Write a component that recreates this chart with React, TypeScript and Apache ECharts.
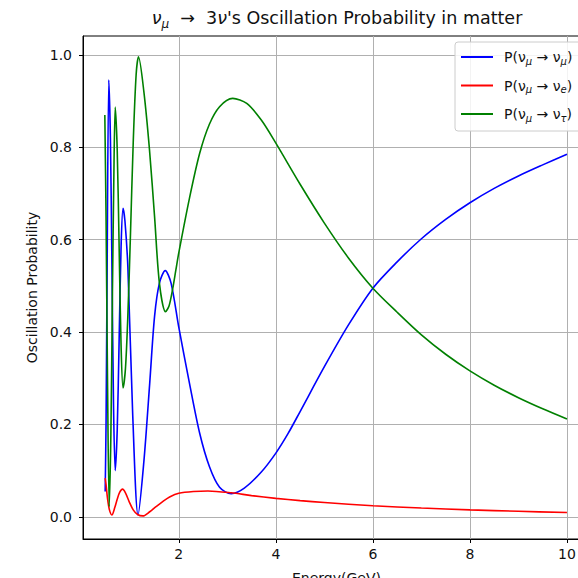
import React, { useEffect, useRef } from 'react';
import * as echarts from 'echarts';

// P(nu_mu -> nu_mu)  (blue)
const energyMuMu = [0.482, 0.50, 0.52, 0.557, 0.59, 0.62, 0.655, 0.689, 0.73, 0.77, 0.81, 0.85, 0.89, 0.95, 1.05, 1.16, 1.28, 1.40, 1.50, 1.60, 1.72, 1.84, 2.0, 2.22, 2.43, 2.63, 2.84, 3.08, 3.35, 3.7, 4.0, 4.25, 4.5, 5.0, 5.5, 6.0, 6.5, 7.0, 7.5, 8.0, 8.5, 9.0, 9.5, 10.0];
const probMuMu = [0.055, 0.2, 0.5, 0.946, 0.82, 0.557, 0.235, 0.10, 0.187, 0.384, 0.585, 0.668, 0.64, 0.54, 0.22, 0.004, 0.12, 0.289, 0.434, 0.506, 0.533, 0.506, 0.41, 0.289, 0.181, 0.109, 0.064, 0.050, 0.062, 0.097, 0.138, 0.18, 0.228, 0.325, 0.416, 0.495, 0.552, 0.602, 0.644, 0.680, 0.711, 0.738, 0.762, 0.785];

// P(nu_mu -> nu_e)  (red)
const energyMuE = [0.482, 0.50, 0.53, 0.57, 0.62, 0.68, 0.73, 0.78, 0.84, 0.90, 0.98, 1.06, 1.15, 1.26, 1.4, 1.53, 1.68, 1.81, 2.0, 2.3, 2.6, 3.08, 3.5, 4.0, 4.5, 5.0, 6.0, 7.0, 8.0, 9.0, 10.0];
const probMuE = [0.084, 0.07, 0.04, 0.015, 0.004, 0.02, 0.038, 0.053, 0.060, 0.052, 0.032, 0.015, 0.005, 0.002, 0.011, 0.022, 0.034, 0.043, 0.051, 0.055, 0.056, 0.052, 0.046, 0.040, 0.035, 0.031, 0.024, 0.019, 0.015, 0.012, 0.0093];

// P(nu_mu -> nu_tau)  (green)
const energyMuTau = [0.475, 0.50, 0.53, 0.565, 0.60, 0.63, 0.66, 0.689, 0.73, 0.77, 0.81, 0.85, 0.90, 0.95, 1.00, 1.06, 1.12, 1.169, 1.28, 1.396, 1.50, 1.60, 1.726, 1.80, 1.876, 1.94, 2.0, 2.22, 2.43, 2.63, 2.84, 3.11, 3.4, 3.7, 4.0, 4.5, 5.0, 5.5, 6.0, 6.5, 7.0, 7.5, 8.0, 8.5, 9.0, 9.5, 10.0];
const probMuTau = [0.87, 0.65, 0.30, 0.022, 0.18, 0.47, 0.73, 0.887, 0.795, 0.583, 0.37, 0.279, 0.321, 0.437, 0.60, 0.81, 0.957, 0.996, 0.92, 0.794, 0.650, 0.506, 0.444, 0.457, 0.495, 0.535, 0.572, 0.69, 0.787, 0.85, 0.888, 0.906, 0.895, 0.859, 0.809, 0.72, 0.636, 0.56, 0.495, 0.443, 0.394, 0.352, 0.316, 0.285, 0.258, 0.234, 0.212];

const xTicks = [2, 4, 6, 8, 10];
const yTicks = [0, 0.2, 0.4, 0.6, 0.8, 1.0];

const FONT = 'DejaVu Sans';
const TXT = '#111111';

export default function App() {
  const ref = useRef<HTMLDivElement>(null);
  useEffect(() => {
    const chart = echarts.init(ref.current!, null, { renderer: 'svg' });
    const pair = (xs: number[], ys: number[]) => xs.map((x, i) => [x, ys[i]]);
    const legendRich: Record<string, string> = {
      'P(νμ→νμ)': '{n|P(ν}{s|μ}{n| → ν}{s|μ}{n|)}',
      'P(νμ→νe)': '{n|P(ν}{s|μ}{n| → ν}{s|e}{n|)}',
      'P(νμ→ντ)': '{n|P(ν}{s|μ}{n| → ν}{s|τ}{n|)}',
    };
    const mk = (name: string, xs: number[], ys: number[], color: string) => ({
      type: 'line',
      name,
      data: pair(xs, ys),
      showSymbol: false,
      symbol: 'none',
      smooth: 0.3,
      itemStyle: { color },
      lineStyle: { color, width: 1.6 },
    });
    const axisCommon = {
      axisLine: { show: true, onZero: false, lineStyle: { color: '#000', width: 1 } },
      axisTick: { show: true, length: 4, lineStyle: { color: '#000', width: 1 } },
      splitLine: { show: true, lineStyle: { color: '#b0b0b0', width: 1 } },
    };
    chart.setOption({
      animation: false,
      backgroundColor: '#ffffff',
      textStyle: { fontFamily: FONT },
      title: {
        text: "{v|ν}{s|μ}{n|  →  3}{v|ν}{n|'s Oscillation Probability in matter}",
        left: 337,
        top: 6,
        padding: 0,
        textAlign: 'center',
        textStyle: {
          fontFamily: FONT,
          fontWeight: 'normal',
          rich: {
            n: { fontSize: 17.5, lineHeight: 24, color: TXT, fontFamily: FONT, fontWeight: 'normal' },
            v: { fontSize: 17.5, lineHeight: 24, color: TXT, fontFamily: FONT, fontStyle: 'italic', fontWeight: 'normal' },
            s: { fontSize: 12, lineHeight: 12, color: TXT, fontFamily: FONT, fontStyle: 'italic', fontWeight: 'normal', verticalAlign: 'bottom' },
          },
        },
      },
      grid: { left: 83, top: 36, width: 507, height: 503, show: true, borderColor: '#000', borderWidth: 1, backgroundColor: 'transparent', containLabel: false, outerBoundsMode: 'none' },
      legend: {
        orient: 'vertical',
        left: 455,
        top: 42,
        padding: [8, 10, 8, 6],
        itemGap: 12.5,
        itemWidth: 32,
        itemHeight: 2,
        icon: 'rect',
        backgroundColor: 'rgba(255,255,255,0.85)',
        borderColor: '#cccccc',
        borderWidth: 1,
        borderRadius: 3,
        formatter: (name: string) => legendRich[name] || name,
        textStyle: {
          fontFamily: FONT,
          fontSize: 14,
          color: TXT,
          padding: [0, 0, 0, 6],
          rich: {
            n: { fontSize: 14, lineHeight: 18, color: TXT, fontFamily: FONT },
            s: { fontSize: 10, lineHeight: 10, color: TXT, fontFamily: FONT, fontStyle: 'italic', verticalAlign: 'bottom' },
          },
        },
      },
      xAxis: {
        type: 'value',
        min: 0.025,
        max: 10.475,
        name: 'Energy(GeV)',
        nameLocation: 'middle',
        nameGap: 32,
        nameTextStyle: { fontFamily: FONT, fontSize: 14, color: TXT },
        ...axisCommon,
        axisTick: { ...axisCommon.axisTick, customValues: xTicks },
        axisLabel: { customValues: xTicks, margin: 8, fontSize: 14, color: TXT, fontFamily: FONT, formatter: (v: number) => String(v) },
      },
      yAxis: {
        type: 'value',
        min: -0.048,
        max: 1.041,
        name: 'Oscillation Probability',
        nameLocation: 'middle',
        nameGap: 43,
        nameTextStyle: { fontFamily: FONT, fontSize: 14, color: TXT },
        ...axisCommon,
        axisTick: { ...axisCommon.axisTick, customValues: yTicks },
        axisLabel: { customValues: yTicks, margin: 11, fontSize: 14, color: TXT, fontFamily: FONT, formatter: (v: number) => v.toFixed(1) },
      },
      series: [
        mk('P(νμ→νμ)', energyMuMu, probMuMu, '#0000ff'),
        mk('P(νμ→νe)', energyMuE, probMuE, '#ff0000'),
        mk('P(νμ→ντ)', energyMuTau, probMuTau, '#008000'),
      ],
    });
    return () => chart.dispose();
  }, []);
  return <div ref={ref} style={{ position: 'absolute', left: 0, top: 0, width: 578, height: 578 }} />;
}
